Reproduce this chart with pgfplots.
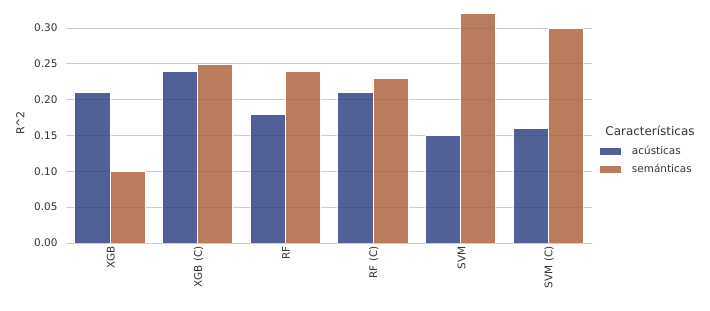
\documentclass[border=0pt]{standalone}
\usepackage{fontspec}
\setmainfont{DejaVu Sans}
\usepackage{pgfplots}
\pgfplotsset{compat=1.18}
\definecolor{cA}{RGB}{39,56,126}
\definecolor{cB}{RGB}{167,92,54}
\definecolor{gridc}{RGB}{204,204,204}
\definecolor{txt}{RGB}{51,51,51}
\begin{document}
\begin{tikzpicture}
\path[use as bounding box] (0,0) rectangle (710bp,311bp);
\begin{axis}[
  at={(66bp,68bp)}, anchor=south west,
  scale only axis, width=526bp, height=240bp,
  xmin=-0.5, xmax=5.5, ymin=0, ymax=0.335,
  ybar=0pt, bar width=0.4,
  xtick={0,1,2,3,4,5},
  xticklabels={XGB,XGB (C),RF,RF (C),SVM,SVM (C)},
  x tick label style={rotate=90, anchor=east, font=\fontsize{10.5}{12}\selectfont, text=txt, yshift=-1bp},
  ytick={0,0.05,0.1,0.15,0.2,0.25,0.3},
  yticklabel style={/pgf/number format/.cd, fixed, fixed zerofill, precision=2, /tikz/.cd, font=\fontsize{10.5}{12}\selectfont, text=txt, xshift=-5bp},
  /pgf/number format/assume math mode=true,
  axis line style={draw=none},
  major tick length=0pt,
  ymajorgrids, grid style={gridc, line width=0.8pt},
  ylabel={R\^{}2},
  every axis y label/.style={at={(axis description cs:-0.087,0.5)}, rotate=90, anchor=center, font=\fontsize{11}{13}\selectfont, text=txt},
  legend cell align=left,
  legend style={at={(1.008,0.421)}, anchor=north west, draw=none, fill=none,
    font=\fontsize{10.5}{12}\selectfont, text=txt, row sep=4bp},
  legend image code/.code={\fill[#1] (0bp,-4bp) rectangle (22bp,4bp);},
  clip=false,
]
\addplot[fill=cA, fill opacity=0.8, draw=white, line width=0.6pt] coordinates {(0,0.21) (1,0.24) (2,0.18) (3,0.21) (4,0.15) (5,0.16)};
\addlegendentry{\hspace{8bp}acústicas}
\addplot[fill=cB, fill opacity=0.8, draw=white, line width=0.6pt] coordinates {(0,0.10) (1,0.25) (2,0.24) (3,0.23) (4,0.32) (5,0.30)};
\addlegendentry{\hspace{8bp}semánticas}
\draw[gridc, line width=0.8pt] (axis cs:-0.5,0) -- (axis cs:5.5,0);
\end{axis}
\node[anchor=center, font=\fontsize{12}{14}\selectfont, text=txt] at (650bp,180bp) {Características};
\end{tikzpicture}
\end{document}
